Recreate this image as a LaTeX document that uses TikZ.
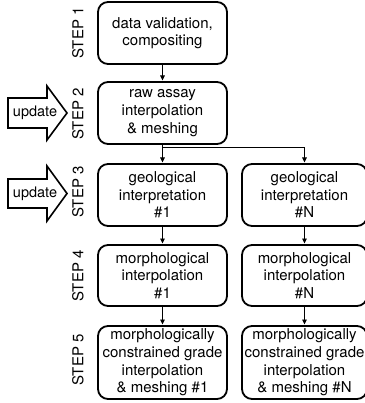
\documentclass[tikz,border=0pt]{standalone}
\usepackage{fontspec}
\setmainfont{TeX Gyre Heros}
\usetikzlibrary{arrows.meta}
\begin{document}
\begin{tikzpicture}[x=1pt,y=-1pt,
  box/.style={draw, line width=1.8pt, rounded corners=10pt, fill=white,
    align=center, inner sep=0pt, font=\fontsize{15}{17.6}\selectfont},
  lbox/.style={box, minimum width=129pt},
  rbox/.style={box, minimum width=125pt},
  steplab/.style={rotate=90, font=\fontsize{15}{18}\selectfont, inner sep=0pt},
  flow/.style={-{Triangle[length=5pt,width=4.5pt]}, line width=0.9pt, shorten >=0.6pt},
  updarrow/.style={draw, line width=1.6pt, fill=white, line join=miter},
  updlab/.style={font=\fontsize{14.5}{17}\selectfont, inner sep=0pt}]
\useasboundingbox (0,0) rectangle (364,403);

% boxes, left column
\node[lbox, minimum height=62pt] (b1) at (162.5,33) {data validation,\\compositing};
\node[lbox, minimum height=62pt] (b2) at (162.5,113) {raw assay\\interpolation\\\& meshing};
\node[lbox, minimum height=62pt] (b3l) at (162.5,195) {geological\\interpretation\\\#1};
\node[lbox, minimum height=61pt] (b4l) at (162.5,275.5) {morphological\\interpolation\\\#1};
\node[lbox, minimum height=73pt] (b5l) at (162.5,362.5) {morphologically\\constrained grade\\interpolation\\\& meshing \#1};

% boxes, right column
\node[rbox, minimum height=62pt] (b3r) at (304.5,195) {geological\\interpretation\\\#N};
\node[rbox, minimum height=61pt] (b4r) at (304.5,275.5) {morphological\\interpolation\\\#N};
\node[rbox, minimum height=73pt] (b5r) at (304.5,362.5) {morphologically\\constrained grade\\interpolation\\\& meshing \#N};

% step labels
\node[steplab] (s1) at (78,33) {STEP 1};
\node[steplab] (s2) at (78,114) {STEP 2};
\node[steplab] (s3) at (78,192) {STEP 3};
\node[steplab] (s4) at (78,276) {STEP 4};
\node[steplab] (s5) at (78,360) {STEP 5};

% update arrows
\draw[updarrow] (8,98) -- (47,98) -- (47,86) -- (67,113) -- (47,140) -- (47,128) -- (8,128) -- cycle;
\node[updlab] (u1) at (35,113) {update};
\draw[updarrow] (8,179) -- (47,179) -- (47,166) -- (67,193.5) -- (47,221) -- (47,208) -- (8,208) -- cycle;
\node[updlab] (u2) at (35,193.5) {update};

% connectors
\draw[flow] (b1) -- (b2);
\draw[flow] (b2) -- (b3l);
\draw[flow] (b2.south) -- ++(0,3) -| (b3r.north);
\draw[flow] (b3l) -- (b4l);
\draw[flow] (b4l) -- (b5l);
\draw[flow] (b3r) -- (b4r);
\draw[flow] (b4r) -- (b5r);
\end{tikzpicture}
\end{document}
